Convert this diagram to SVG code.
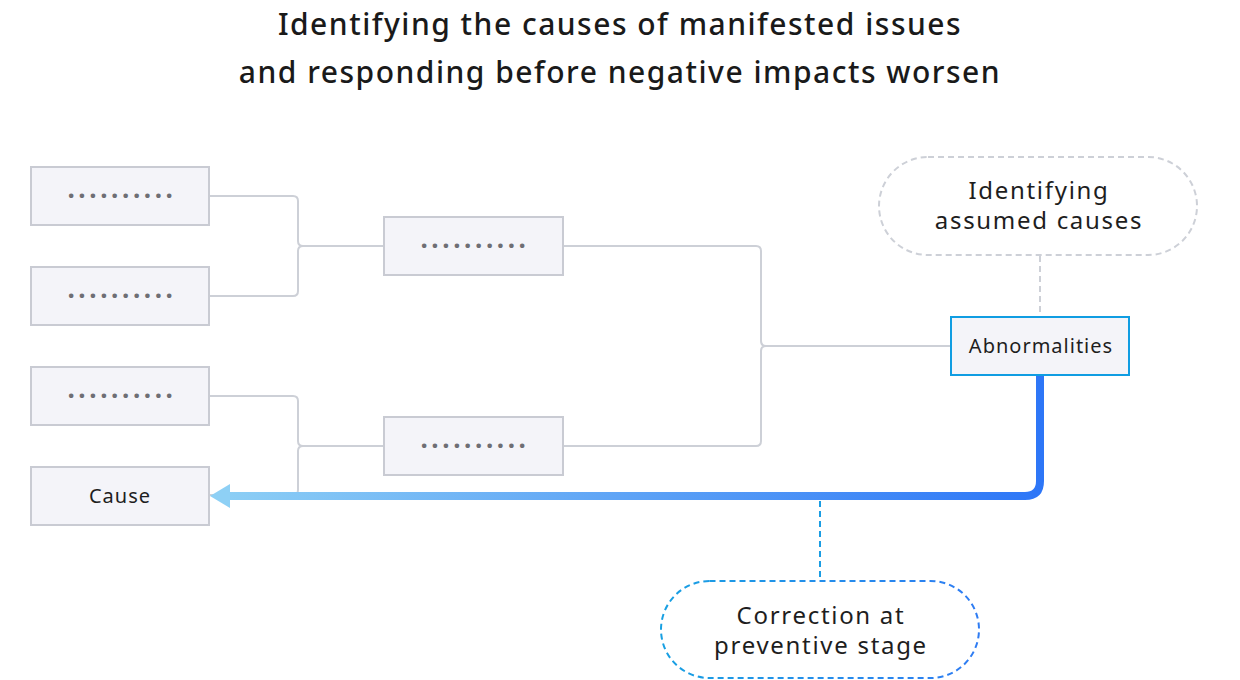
<svg xmlns="http://www.w3.org/2000/svg" width="1240" height="680" viewBox="0 0 1240 680">
<style>
.box{fill:#f4f4f9;stroke:#c9cbd3;stroke-width:2}
.dots{font-family:"Noto Sans","DejaVu Sans",sans-serif;font-size:26px;font-weight:700;fill:#6e6e74;text-anchor:middle;letter-spacing:3.6px}
.lbl{font-family:"Noto Sans","Open Sans",sans-serif;font-size:20px;fill:#1e1e1e;text-anchor:middle;letter-spacing:1px}
.big{font-family:"Noto Sans","Open Sans",sans-serif;font-size:24px;fill:#1e1e1e;text-anchor:middle;letter-spacing:1.7px}
.title{font-family:"Noto Sans","Open Sans",sans-serif;font-size:30px;font-weight:500;fill:#1a1a1a;text-anchor:middle;letter-spacing:1.5px}
.conn{fill:none;stroke:#cdd0d7;stroke-width:2}
</style>
<defs>
<linearGradient id="arr" gradientUnits="userSpaceOnUse" x1="210" y1="0" x2="1044" y2="0">
<stop offset="0" stop-color="#8ed0f5"/>
<stop offset="1" stop-color="#2d76f7"/>
</linearGradient>
<linearGradient id="pill" gradientUnits="userSpaceOnUse" x1="660" y1="0" x2="980" y2="0">
<stop offset="0" stop-color="#18a0e2"/>
<stop offset="1" stop-color="#2f7cf3"/>
</linearGradient>
</defs>
<rect width="1240" height="680" fill="#ffffff"/>
<text class="title" x="620" y="35">Identifying the causes of manifested issues</text>
<text class="title" x="620" y="83">and responding before negative impacts worsen</text>
<g id="connectors">
<path class="conn" d="M209,196 H293 Q298,196 298,201 V241 Q298,246 303,246 H384 M209,296 H293 Q298,296 298,291 V251 Q298,246 303,246"/>
<path class="conn" d="M209,396 H293 Q298,396 298,401 V441 Q298,446 303,446 H384 M209,495 H293 Q298,495 298,490 V451 Q298,446 303,446"/>
<path class="conn" d="M563,246 H756 Q761,246 761,251 V341 Q761,346 766,346 H950 M563,446 H756 Q761,446 761,441 V351 Q761,346 766,346"/>
<line x1="1040" y1="256" x2="1040" y2="317" stroke="#cdd0d7" stroke-width="2" stroke-dasharray="6 4"/>
<path d="M1040,375 V481 Q1040,496 1025,496 H228" fill="none" stroke="url(#arr)" stroke-width="8"/>
<polygon points="210,496 230,484 230,508" fill="#8ed0f5"/>
<line x1="820" y1="501" x2="820" y2="580" stroke="#1a9de3" stroke-width="2" stroke-dasharray="6 4"/>
</g>
<g id="n1"><rect class="box" x="31" y="167" width="178" height="58"/><text class="dots" x="122" y="205">··········</text></g>
<g id="n2"><rect class="box" x="31" y="267" width="178" height="58"/><text class="dots" x="122" y="305">··········</text></g>
<g id="n3"><rect class="box" x="31" y="367" width="178" height="58"/><text class="dots" x="122" y="405">··········</text></g>
<g id="n4"><rect class="box" x="31" y="467" width="178" height="58"/><text class="lbl" x="120" y="503">Cause</text></g>
<g id="m1"><rect class="box" x="384" y="217" width="179" height="58"/><text class="dots" x="475" y="255">··········</text></g>
<g id="m2"><rect class="box" x="384" y="417" width="179" height="58"/><text class="dots" x="475" y="455">··········</text></g>
<g id="abn"><rect x="951" y="317" width="178" height="58" fill="#f4f4f9" stroke="#109de2" stroke-width="2"/><text class="lbl" x="1041" y="353">Abnormalities</text></g>
<g id="assumed"><rect x="879" y="157" width="318" height="98" rx="49" fill="#ffffff" stroke="#cdd0d7" stroke-width="2" stroke-dasharray="6 4"/><text class="big" x="1039" y="199">Identifying</text><text class="big" x="1039" y="229">assumed causes</text></g>
<g id="correction"><rect x="661" y="581" width="318" height="97" rx="48.5" fill="#ffffff" stroke="url(#pill)" stroke-width="2" stroke-dasharray="6 4"/><text class="big" x="821" y="624">Correction at</text><text class="big" x="821" y="654">preventive stage</text></g>
</svg>
